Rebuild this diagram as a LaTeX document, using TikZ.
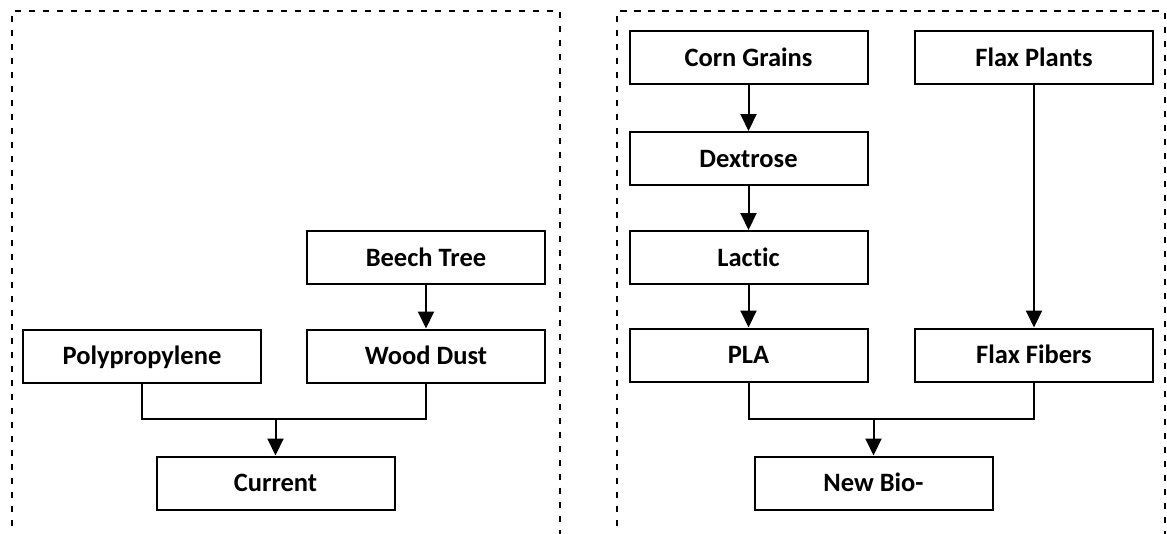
\documentclass[tikz,border=0pt]{standalone}
\usepackage{fontspec}
\setmainfont{Carlito}[Ligatures=NoCommon]
\usetikzlibrary{arrows.meta}
\tikzset{
  stage/.style={draw=black, line width=2pt, fill=white, minimum width=238pt, minimum height=53pt,
    inner sep=0pt, text height=17pt, text depth=0pt,
    font=\fontsize{26.5}{30}\selectfont\bfseries},
  group/.style={draw=black, line width=2pt, dash pattern=on 6.5pt off 7.5pt},
  link/.style={draw=black, line width=2pt},
  flow/.style={draw=black, line width=2pt, -{Triangle[length=17pt,width=16pt]}},
}
\begin{document}
\begin{tikzpicture}[x=1pt,y=-1pt]
\useasboundingbox (0,0) rectangle (1167,533);
% dashed groups
\coordinate (gla) at (11.5,540);
\coordinate (glb) at (11.5,11);
\coordinate (glc) at (560,11);
\coordinate (gld) at (560,540);
\draw[group] (gla) -- (glb) -- (glc) -- (gld);
\coordinate (gra) at (617,540);
\coordinate (grb) at (617,11);
\coordinate (grc) at (1164.5,11);
\coordinate (grd) at (1164.5,540);
\draw[group] (gra) -- (grb) -- (grc) -- (grd);
% left nodes
\node[stage] (beech) at (426,257.5) {Beech Tree};
\node[stage] (wood) at (426,356) {Wood Dust};
\node[stage] (poly) at (142,356) {Polypropylene};
\node[stage] (cur) at (275.5,483) {Current};
% right nodes
\node[stage] (corn) at (748.5,57.5) {Corn Grains};
\node[stage] (flaxp) at (1034,57.5) {Flax Plants};
\node[stage] (dex) at (748.5,158.5) {Dextrose};
\node[stage] (lac) at (748.5,257.5) {Lactic};
\node[stage] (pla) at (748.5,355) {PLA};
\node[stage] (flaxf) at (1034,355) {Flax Fibers};
\node[stage] (bio) at (873.5,483) {New Bio-};
% connectors left
\coordinate (jl) at (275.5,419);
\draw[flow] (beech.south) -- (wood.north);
\draw[link] (poly.south) |- (jl) -| (wood.south);
\draw[flow] (jl) -- (cur.north);
% connectors right
\coordinate (jr) at (873.5,419);
\draw[flow] (corn.south) -- (dex.north);
\draw[flow] (dex.south) -- (lac.north);
\draw[flow] (lac.south) -- (pla.north);
\draw[flow] (flaxp.south) -- (flaxf.north);
\draw[link] (pla.south) |- (jr) -| (flaxf.south);
\draw[flow] (jr) -- (bio.north);
\end{tikzpicture}
\end{document}
